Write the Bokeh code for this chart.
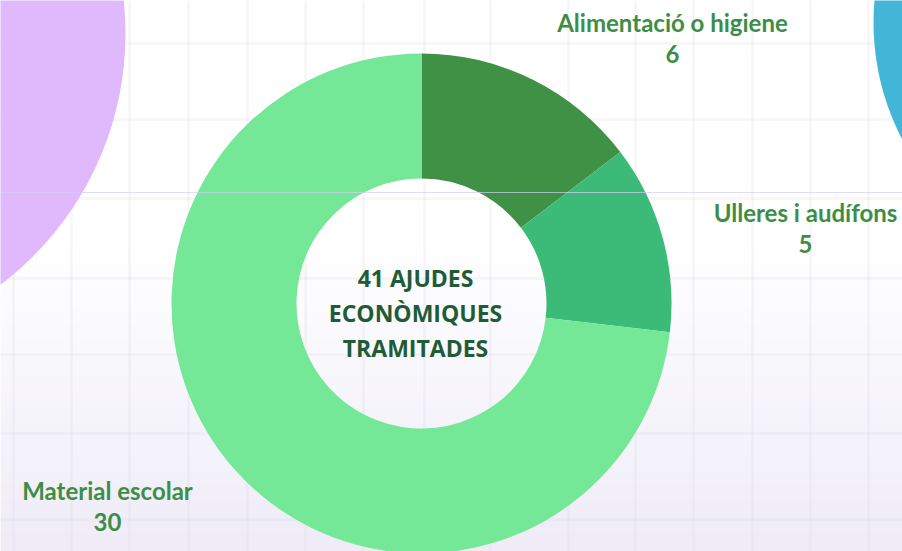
import numpy as np
from bokeh.plotting import figure
from bokeh.models import Range1d, ColumnDataSource
from bokeh.core.properties import value
from bokeh.embed import file_html
from bokeh.resources import INLINE

# ---- data ----
categories = ["Alimentació o higiene", "Ulleres i audífons", "Material escolar"]
counts = [6, 5, 30]
colors = ["#3f9146", "#3cba78", "#75e898"]
center_lines = ["41 AJUDES", "ECONÒMIQUES", "TRAMITADES"]

W, H = 902, 551
def fy(y):  # reference pixel row -> data y
    return H - y

p = figure(width=W, height=H, output_backend="svg", toolbar_location=None,
           x_range=Range1d(0, W), y_range=Range1d(0, H),
           x_axis_location=None, y_axis_location=None, min_border=0)
p.grid.visible = False
p.outline_line_color = None
p.background_fill_color = "#ffffff"
p.border_fill_color = "#ffffff"

# background gradient (white top -> lavender bottom)
n = 200
ys = np.linspace(0, 1, n)  # row 0 = bottom
top = np.array([255, 255, 255]); bot = np.array([239, 236, 248])
t = np.clip((1 - ys - 0.45) / 0.55, 0, 1)
img = np.zeros((n, 1), dtype=np.uint32)
view = img.view(dtype=np.uint8).reshape((n, 1, 4))
for i in range(n):
    c = top + (bot - top) * t[i]
    view[i, 0, 0] = int(c[0]); view[i, 0, 1] = int(c[1]); view[i, 0, 2] = int(c[2]); view[i, 0, 3] = 255
p.image_rgba(image=[img], x=0, y=0, dw=W, dh=H)

# faint grid
vx = [13, 71, 129, 188, 247, 305, 363, 424, 490, 568, 635, 693, 752, 810, 868]
hy = [43, 119, 198, 278, 354, 433, 519]
p.segment(x0=vx, y0=[0]*len(vx), x1=vx, y1=[H]*len(vx), line_color="#d8d4de", line_width=2.5, line_alpha=0.22)
p.segment(x0=[0]*len(hy), y0=[fy(v) for v in hy], x1=[W]*len(hy), y1=[fy(v) for v in hy],
          line_color="#d8d4de", line_width=2.5, line_alpha=0.22)

# decorative circles
p.circle(x=[-190], y=[fy(33)], radius=315, fill_color="#e0b9fd", line_color=None)
p.circle(x=[1125], y=[fy(22)], radius=252, fill_color="#43b6d7", line_color=None)

# donut
cx, cy = 421, fy(303)
vals = np.array(counts, dtype=float)
frac = vals / vals.sum()
cum = np.concatenate([[0], np.cumsum(frac)])
start = np.pi / 2 - 2 * np.pi * cum[:-1]
end = np.pi / 2 - 2 * np.pi * cum[1:]
src = ColumnDataSource(dict(start=start, end=end, color=colors))
p.annular_wedge(x=cx, y=cy, inner_radius=125, outer_radius=250, start_angle="start",
                end_angle="end", direction="clock", fill_color="color", line_color=None, source=src)

# lavender thin line on top
p.segment(x0=[0], y0=[fy(192)], x1=[W], y1=[fy(192)], line_color="#d6cdfa", line_width=1, line_alpha=0.7)

# labels
lab_x = [672, 805, 107]
lab_y = [22, 212, 490]
p.text(x=lab_x, y=[fy(v) for v in lab_y], text=categories, text_align="center", text_baseline="middle",
       text_font=value("Lato"), text_font_style="bold", text_font_size="24px", text_color="#3d8e45")
p.text(x=lab_x, y=[fy(v + 31) for v in lab_y], text=[str(c) for c in counts], text_align="center",
       text_baseline="middle", text_font=value("Lato"), text_font_style="bold", text_font_size="24px",
       text_color="#3d8e45")

# center text
p.text(x=[415] * 3, y=[fy(277), fy(312), fy(347)], text=center_lines, text_align="center",
       text_baseline="middle", text_font=value("Open Sans"), text_font_style="bold",
       text_font_size="23px", text_color="#1f5b36")

open("out.html", "w").write(file_html(p, INLINE))
